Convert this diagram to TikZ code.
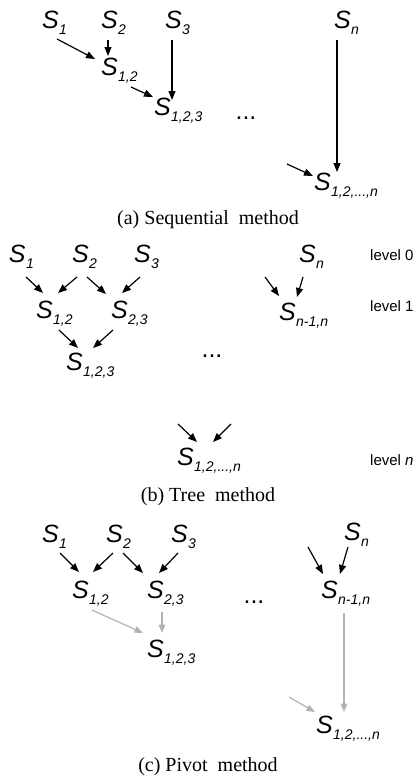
\documentclass[tikz,border=0pt]{standalone}
\usepackage{fontspec}
\setmainfont{Liberation Serif}
\setsansfont{Liberation Sans}
\usetikzlibrary{arrows.meta}
\newcommand{\Slab}[1]{{\fontsize{25}{25}\selectfont\sffamily\itshape S\kern0.5pt\raisebox{-6.5pt}{\fontsize{14}{14}\selectfont #1}}}
\begin{document}
\begin{tikzpicture}[x=1pt,y=-1pt,
  lab/.style={anchor=base west,inner sep=0pt,outer sep=0pt},
  arr/.style={line width=1.2pt,-{Triangle[length=9pt,width=7pt]}},
  garr/.style={line width=1.2pt,draw=black!30,-{Triangle[length=8.5pt,width=6.5pt]}},
  dotsty/.style={anchor=base,inner sep=0pt,font=\fontsize{25}{25}\selectfont\sffamily},
  lvl/.style={anchor=base west,inner sep=0pt,font=\fontsize{15}{15}\selectfont\sffamily},
  captxt/.style={anchor=base,inner sep=0pt,font=\fontsize{20}{20}\selectfont\rmfamily}]
\useasboundingbox (0,0) rectangle (417,779);
% ---------- (a) ----------
\node[lab] (a1) at (42,28) {\Slab{1}};
\node[lab] (a2) at (101,28) {\Slab{2}};
\node[lab] (a3) at (165,28) {\Slab{3}};
\node[lab] (an) at (334,28) {\Slab{n}};
\node[lab] (a12) at (101,75) {\Slab{1,2}};
\node[lab] (a123) at (154,115) {\Slab{1,2,3}};
\node[lab] (a1n) at (314,190) {\Slab{1,2,...,n}};
\node[dotsty] (adots) at (246,119) {...};
\coordinate (ain) at (287,164);
\draw[arr] ([shift={(15,11)}]a1.base west) -- ([shift={(-6,-16)}]a12.base west);
\draw[arr] ([shift={(7,12)}]a2.base west) -- ([shift={(7,-19)}]a12.base west);
\draw[arr] ([shift={(7,12)}]a3.base west) -- ([shift={(18,-15)}]a123.base west);
\draw[arr] ([shift={(30,12)}]a12.base west) -- ([shift={(-1,-18)}]a123.base west);
\draw[arr] ([shift={(3,12)}]an.base west) -- ([shift={(23,-18)}]a1n.base west);
\draw[arr] (ain) -- ([shift={(-1,-14)}]a1n.base west);
\node[captxt] (capa) at (208,224) {(a)\ Sequential\ \ method};
% ---------- (b) ----------
\node[lab] (b1) at (9,262) {\Slab{1}};
\node[lab] (b2) at (72,262) {\Slab{2}};
\node[lab] (b3) at (134,262) {\Slab{3}};
\node[lab] (bn) at (299,262) {\Slab{n}};
\node[lab] (b12) at (36,318) {\Slab{1,2}};
\node[lab] (b23) at (111,318) {\Slab{2,3}};
\node[lab] (bnn) at (279,320) {\Slab{n-1,n}};
\node[lab] (b123) at (66,370) {\Slab{1,2,3}};
\node[lab] (b1n) at (177,465) {\Slab{1,2,...,n}};
\node[dotsty] (bdots) at (212,357) {...};
\node[lvl] (l0) at (370,260) {level 0};
\node[lvl] (l1) at (370,311) {level 1};
\node[lvl] (ln) at (370,465) {level \textit{n}};
\coordinate (bin1) at (265,277);
\coordinate (bin2) at (178,424);
\coordinate (bin3) at (231,424);
\draw[arr] ([shift={(17,15)}]b1.base west) -- ([shift={(7,-25)}]b12.base west);
\draw[arr] ([shift={(5,15)}]b2.base west) -- ([shift={(22,-25)}]b12.base west);
\draw[arr] ([shift={(15,15)}]b2.base west) -- ([shift={(-5,-24)}]b23.base west);
\draw[arr] ([shift={(6,15)}]b3.base west) -- ([shift={(11,-25)}]b23.base west);
\draw[arr] ([shift={(23,12)}]b12.base west) -- ([shift={(12,-22)}]b123.base west);
\draw[arr] ([shift={(2,12)}]b23.base west) -- ([shift={(27,-22)}]b123.base west);
\draw[arr] (bin1) -- ([shift={(0,-24)}]bnn.base west);
\draw[arr] ([shift={(4,15)}]bn.base west) -- ([shift={(18,-23)}]bnn.base west);
\draw[arr] (bin2) -- ([shift={(20,-23)}]b1n.base west);
\draw[arr] (bin3) -- ([shift={(36,-23)}]b1n.base west);
\node[captxt] (capb) at (208,501) {(b)\ Tree\ \ method};
% ---------- (c) ----------
\node[lab] (c1) at (42,542) {\Slab{1}};
\node[lab] (c2) at (106,542) {\Slab{2}};
\node[lab] (c3) at (171,542) {\Slab{3}};
\node[lab] (cn) at (344,540) {\Slab{n}};
\node[lab] (c12) at (72,598) {\Slab{1,2}};
\node[lab] (c23) at (147,598) {\Slab{2,3}};
\node[lab] (cnn) at (321,598) {\Slab{n-1,n}};
\node[lab] (c123) at (147,657) {\Slab{1,2,3}};
\node[lab] (c1n) at (316,733) {\Slab{1,2,...,n}};
\node[dotsty] (cdots) at (254,603) {...};
\coordinate (cin1) at (308,547);
\coordinate (cin2) at (289,697);
\draw[arr] ([shift={(18,11)}]c1.base west) -- ([shift={(7,-26)}]c12.base west);
\draw[arr] ([shift={(7,11)}]c2.base west) -- ([shift={(21,-26)}]c12.base west);
\draw[arr] ([shift={(17,11)}]c2.base west) -- ([shift={(-4,-25)}]c23.base west);
\draw[arr] ([shift={(7,11)}]c3.base west) -- ([shift={(12,-25)}]c23.base west);
\draw[arr] (cin1) -- ([shift={(2,-24)}]cnn.base west);
\draw[arr] ([shift={(4,7)}]cn.base west) -- ([shift={(19,-24)}]cnn.base west);
\draw[garr] ([shift={(20,12)}]c12.base west) -- ([shift={(-4,-24)}]c123.base west);
\draw[garr] ([shift={(15,14)}]c23.base west) -- ([shift={(15,-24)}]c123.base west);
\draw[garr] ([shift={(23,15)}]cnn.base west) -- ([shift={(28,-21)}]c1n.base west);
\draw[garr] (cin2) -- ([shift={(-1,-21)}]c1n.base west);
\node[captxt] (capc) at (208,771) {(c)\ Pivot\ \ method};
\end{tikzpicture}
\end{document}
